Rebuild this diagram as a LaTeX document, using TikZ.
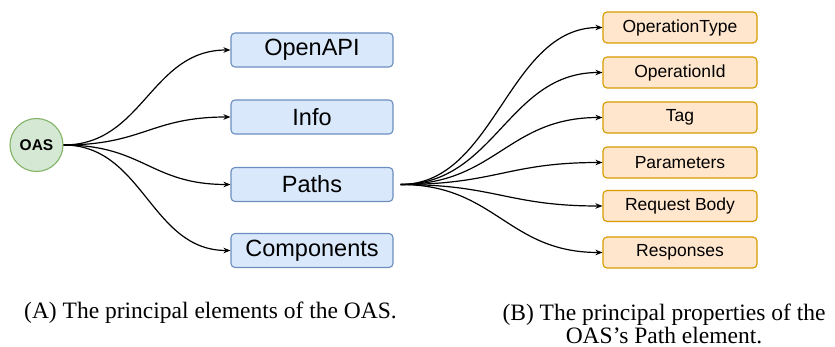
\documentclass[tikz,border=0pt]{standalone}
\usepackage{fontspec}
\setmainfont{Liberation Serif}
\newfontfamily\boxfont{Liberation Sans}
\usepackage{tikz}
\usetikzlibrary{%
  arrows.meta,%
  calc%
}
\definecolor{oasgreen}{HTML}{D5E8D4}
\definecolor{oasgreenline}{HTML}{82B366}
\definecolor{elemblue}{HTML}{DAE8FC}
\definecolor{elemblueline}{HTML}{6C8EBF}
\definecolor{proporange}{HTML}{FFE6CC}
\definecolor{proporangeline}{HTML}{D79B00}

\tikzset{
  elem/.style={draw=elemblueline, fill=elemblue, rounded corners=4pt, line width=1.1pt,
    minimum width=162pt, minimum height=34pt, inner sep=0pt,
    font=\boxfont\fontsize{23.5}{26}\selectfont},
  prop/.style={draw=proporangeline, fill=proporange, rounded corners=4pt, line width=1.1pt,
    minimum width=154pt, minimum height=31pt, inner sep=0pt,
    font=\boxfont\fontsize{17.5}{20}\selectfont},
  curv/.style={to path={(\tikztostart) .. controls +(#1,0) and +(-#1,0) .. (\tikztotarget)}},
  link/.style={line width=1.2pt, -{Stealth[length=7pt,width=5.5pt]}},
  caption/.style={font=\fontsize{23.5}{21}\selectfont, align=center, inner sep=0pt, anchor=base}
}

\begin{document}
\begin{tikzpicture}[x=1pt, y=-1pt]
\useasboundingbox (0,0) rectangle (835,347);

% (A) the elements of the OAS
\node[circle, draw=oasgreenline, fill=oasgreen, line width=1.1pt, minimum size=53pt, inner sep=0pt,
  font=\boxfont\bfseries\fontsize{15.5}{17}\selectfont] (oas) at (36.5,145) {OAS};
\node[elem] (openapi) at (312,50) {OpenAPI};
\node[elem] (info) at (312,117) {Info};
\node[elem] (paths) at (312,184.5) {Paths};
\node[elem] (components) at (312,250.5) {Components};

\draw
	(oas.east) edge[link, curv=80pt] (openapi.west)
	(oas.east) edge[link, curv=80pt] (info.west)
	(oas.east) edge[link, curv=80pt] (paths.west)
	(oas.east) edge[link, curv=80pt] (components.west)
;

% (B) the properties of a Path
\node[prop] (optype) at (680,27.5) {OperationType};
\node[prop] (opid) at (680,72.5) {OperationId};
\node[prop] (tag) at (680,117.5) {Tag};
\node[prop] (params) at (680,162.5) {Parameters};
\node[prop] (reqbody) at (680,206) {Request Body};
\node[prop] (responses) at (680,252.5) {Responses};

\coordinate (fork) at ($(paths.east)+(7,0)$);
\draw
	(fork) edge[link, curv=95pt] (optype.west)
	(fork) edge[link, curv=95pt] (opid.west)
	(fork) edge[link, curv=95pt] (tag.west)
	(fork) edge[link, curv=95pt] (params.west)
	(fork) edge[link, curv=95pt] (reqbody.west)
	(fork) edge[link, curv=95pt] (responses.west)
;

% captions
\node[caption] (capA) at (210.5,318) {(A) The principal elements of the OAS.};
\node[caption] (capB) at (664,343) {(B) The principal properties of the\\OAS’s Path element.};
\end{tikzpicture}
\end{document}
